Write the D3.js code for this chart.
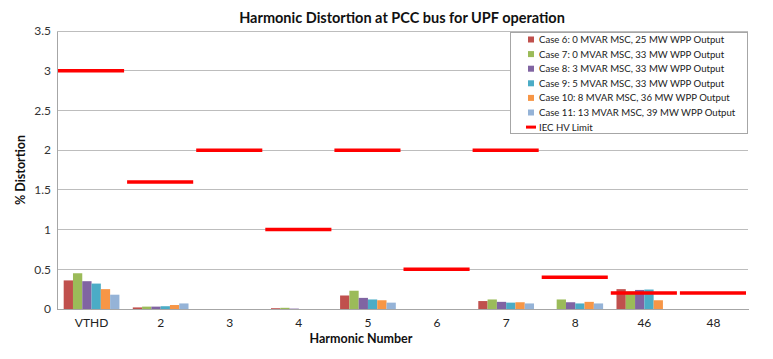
<!DOCTYPE html>
<html><head><meta charset="utf-8">
<script src="https://cdn.jsdelivr.net/npm/d3@7"></script>
<style>body{margin:0;background:#fff}svg{display:block}text{font-family:Lato,"Open Sans",sans-serif}</style>
</head><body><svg id="c" width="773" height="359"></svg>
<script>
const categories = ["VTHD","2","3","4","5","6","7","8","46","48"];
const seriesNames = ["Case 6: 0 MVAR MSC, 25 MW WPP Output","Case 7: 0 MVAR MSC, 33 MW WPP Output","Case 8: 3 MVAR MSC, 33 MW WPP Output","Case 9: 5 MVAR MSC, 33 MW WPP Output","Case 10: 8 MVAR MSC, 36 MW WPP Output","Case 11: 13 MVAR MSC, 39 MW WPP Output"];
const case6  = [0.36,0.02,0,0.01,0.17,0,0.10,0,0.25,0];
const case7  = [0.45,0.03,0,0.015,0.23,0,0.12,0.12,0.22,0];
const case8  = [0.35,0.03,0,0.005,0.14,0,0.09,0.085,0.24,0];
const case9  = [0.32,0.035,0,0,0.12,0,0.08,0.07,0.245,0];
const case10 = [0.25,0.05,0,0,0.11,0,0.085,0.09,0.11,0];
const case11 = [0.18,0.07,0,0,0.08,0,0.07,0.07,0,0];
const iecLimit = [3,1.6,2,1,2,0.5,2,0.4,0.2,0.2];
const yTicks = [0,0.5,1,1.5,2,2.5,3,3.5];
const colors = ["#C0504D","#9BBB59","#8064A2","#4BACC6","#F79646","#95B3D7"];
const series = [case6,case7,case8,case9,case10,case11];

const svg = d3.select("#c");
const L=57,R=748,T=31,B=309;
const x = d3.scaleBand().domain(categories).range([L,R]).paddingInner(0).paddingOuter(0);
const x1 = d3.scaleBand().domain(d3.range(6)).range([0,x.bandwidth()]).paddingOuter(0.72);
const y = d3.scaleLinear().domain([0,3.5]).range([B,T]);

// gridlines
svg.append("g").selectAll("line").data(yTicks).join("line")
  .attr("x1",L).attr("x2",R).attr("y1",d=>y(d)).attr("y2",d=>y(d))
  .attr("stroke","#bdbdbd").attr("stroke-width",1).attr("shape-rendering","crispEdges");

// y axis
const ya = svg.append("g").attr("transform",`translate(${L},0)`)
  .call(d3.axisLeft(y).tickValues(yTicks).tickSize(0).tickPadding(6).tickFormat(d3.format("~g")));
ya.select(".domain").attr("stroke","#a6a6a6").attr("shape-rendering","crispEdges");
ya.selectAll("text").attr("font-size",12).attr("fill","#333");

// x axis
const xa = svg.append("g").attr("transform",`translate(0,${B})`)
  .call(d3.axisBottom(x).tickSize(0).tickPadding(9));
xa.select(".domain").attr("stroke","#a6a6a6").attr("shape-rendering","crispEdges");
xa.selectAll("text").attr("font-size",12).attr("fill","#222");

// bars
const g = svg.append("g");
series.forEach((s,i)=>{
  g.append("g").selectAll("rect").data(s.map((v,j)=>({c:categories[j],v}))).join("rect")
    .attr("x",d=>x(d.c)+x1(i)).attr("width",x1.bandwidth())
    .attr("y",d=>y(d.v)).attr("height",d=>B-y(d.v))
    .attr("fill",colors[i]);
});

// IEC limit lines
svg.append("g").selectAll("line").data(iecLimit.map((v,j)=>({c:categories[j],v}))).join("line")
  .attr("x1",d=>x(d.c)+1).attr("x2",d=>x(d.c)+x.bandwidth()-2)
  .attr("y1",d=>y(d.v)).attr("y2",d=>y(d.v))
  .attr("stroke","#FF0000").attr("stroke-width",3.5);

// title
svg.append("text").attr("x",402).attr("y",23).attr("text-anchor","middle")
  .attr("font-size",14.5).attr("font-weight","bold").attr("fill","#111")
  .text("Harmonic Distortion at PCC bus for UPF operation");
svg.append("text").attr("x",361).attr("y",343).attr("text-anchor","middle")
  .attr("font-size",12.5).attr("font-weight","bold").attr("fill","#111").text("Harmonic Number");
svg.append("text").attr("transform","translate(25,170) rotate(-90)").attr("text-anchor","middle")
  .attr("font-size",12.5).attr("font-weight","bold").attr("fill","#111").text("% Distortion");

// legend
const lg = svg.append("g");
lg.append("rect").attr("x",510.5).attr("y",32.5).attr("width",237).attr("height",101)
  .attr("fill","#fff").attr("stroke","#a6a6a6");
const rowY = d3.range(7).map(i=>39.5+i*14.6);
seriesNames.forEach((n,i)=>{
  lg.append("rect").attr("x",528).attr("y",rowY[i]-3).attr("width",6).attr("height",6).attr("fill",colors[i]);
  lg.append("text").attr("x",539).attr("y",rowY[i]+3.5).attr("font-size",9.6).attr("fill","#222").text(n);
});
lg.append("line").attr("x1",526).attr("x2",536).attr("y1",rowY[6]).attr("y2",rowY[6]).attr("stroke","#FF0000").attr("stroke-width",3);
lg.append("text").attr("x",539).attr("y",rowY[6]+3.5).attr("font-size",9.6).attr("fill","#222").text("IEC HV Limit");
</script></body></html>
